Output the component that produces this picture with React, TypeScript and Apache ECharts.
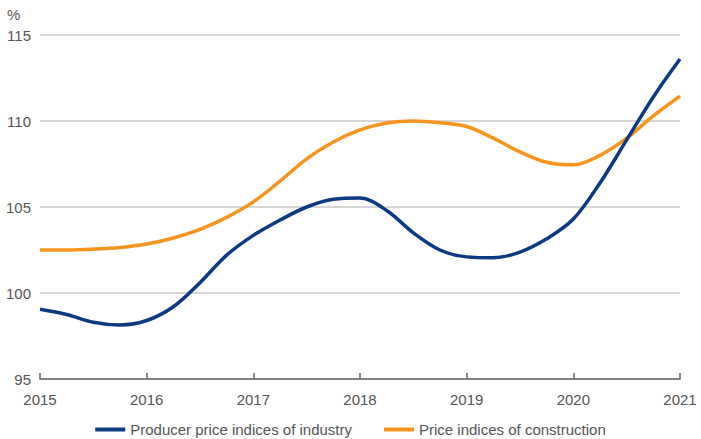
import React, { useEffect, useRef } from "react";
import * as echarts from "echarts";

const quarters: number[] = [
  2015, 2015.25, 2015.5, 2015.75, 2016, 2016.25, 2016.5, 2016.75, 2017, 2017.25, 2017.5, 2017.75,
  2018, 2018.25, 2018.5, 2018.75, 2019, 2019.25, 2019.5, 2019.75, 2020, 2020.25, 2020.5, 2020.75, 2021,
];
const industry: number[] = [
  99.05, 98.75, 98.3, 98.14, 98.4, 99.2, 100.6, 102.2, 103.35, 104.24, 105.0, 105.45,
  105.52, 104.8, 103.5, 102.5, 102.1, 102.05, 102.38, 103.15, 104.3, 106.4, 108.9, 111.4, 113.6,
];
const construction: number[] = [
  102.5, 102.5, 102.55, 102.65, 102.85, 103.2, 103.7, 104.4, 105.3, 106.5, 107.8, 108.78,
  109.48, 109.88, 110.0, 109.9, 109.68, 109.0, 108.2, 107.6, 107.45, 108.0, 109.0, 110.3, 111.45,
];
const seriesNames: string[] = ["Producer price indices of industry", "Price indices of construction"];
const unitLabel = "%";

export default function App() {
  const ref = useRef<HTMLDivElement>(null);
  useEffect(() => {
    if (!ref.current) return;
    const chart = echarts.init(ref.current, undefined, { renderer: "svg" });
    const font = "'Liberation Sans', Arial, sans-serif";
    chart.setOption({
      animation: false,
      textStyle: { fontFamily: font },
      grid: { left: 40, right: 21, top: 35, bottom: 60 },
      graphic: [
        {
          type: "text",
          left: 7,
          top: 7,
          style: { text: unitLabel, fontSize: 15, fill: "#555", fontFamily: font },
        },
      ],
      legend: {
        top: 417,
        left: "center",
        itemWidth: 30,
        itemHeight: 4,
        itemGap: 32,
        icon: "rect",
        textStyle: { fontSize: 15, color: "#555", fontFamily: font },
        data: seriesNames,
      },
      xAxis: {
        type: "value",
        min: 2015,
        max: 2021,
        interval: 1,
        axisLine: { show: true, lineStyle: { color: "#666", width: 1.5 } },
        axisTick: { show: true, inside: true, length: 6, lineStyle: { color: "#666", width: 1.5 } },
        splitLine: { show: false },
        axisLabel: {
          formatter: (v: number) => String(v),
          fontSize: 15,
          color: "#555",
          margin: 13,
          fontFamily: font,
        },
      },
      yAxis: {
        type: "value",
        min: 95,
        max: 115,
        interval: 5,
        axisLine: { show: false },
        axisTick: { show: false },
        splitLine: { lineStyle: { color: "#c8c8c8", width: 1.5 } },
        axisLabel: { fontSize: 15, color: "#555", margin: 9, fontFamily: font },
      },
      series: [
        {
          name: seriesNames[0],
          type: "line",
          smooth: 0.35,
          showSymbol: false,
          lineStyle: { color: "#0b3a82", width: 3.5 },
          itemStyle: { color: "#0b3a82" },
          data: quarters.map((q, i) => [q, industry[i]]),
          z: 3,
        },
        {
          name: seriesNames[1],
          type: "line",
          smooth: 0.35,
          showSymbol: false,
          lineStyle: { color: "#f7941d", width: 3.5 },
          itemStyle: { color: "#f7941d" },
          data: quarters.map((q, i) => [q, construction[i]]),
          z: 2,
        },
      ],
    });
    return () => chart.dispose();
  }, []);
  return <div ref={ref} style={{ width: 701, height: 439, position: "absolute", left: 0, top: 0 }} />;
}
